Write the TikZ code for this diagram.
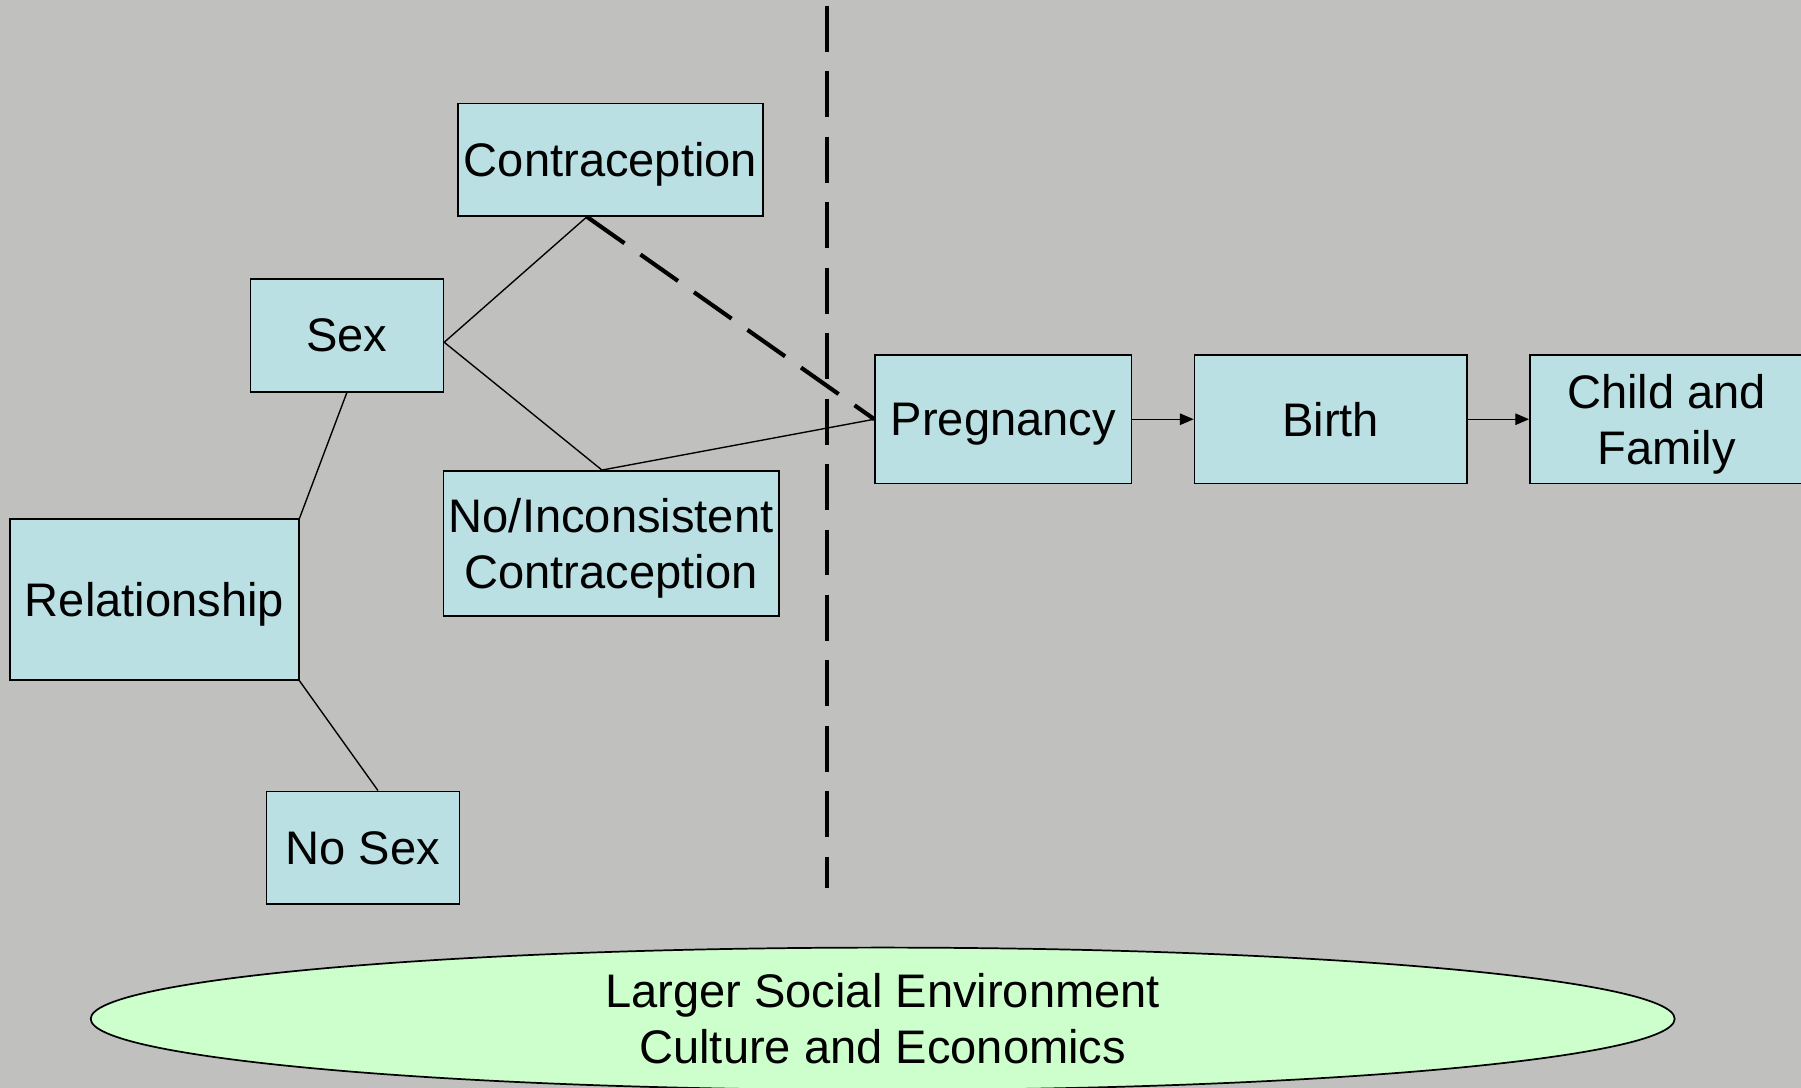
\documentclass[tikz,border=0pt]{standalone}
\usepackage{fontspec}
\setmainfont{Liberation Sans}
\usetikzlibrary{calc,arrows.meta,shapes.geometric}
\definecolor{bgc}{RGB}{192,192,190}
\definecolor{boxc}{RGB}{186,224,227}
\definecolor{ellc}{RGB}{204,255,204}
\begin{document}
\begin{tikzpicture}[x=0.5pt,y=-0.5pt,
  every node/.style={font=\fontsize{20.5}{24.5}\selectfont, text=black},
  box/.style={draw=black, line width=0.75pt, fill=boxc, rectangle, inner sep=0pt, align=center, text depth=0pt},
  link/.style={draw=black, line width=0.6pt},
  bigdash/.style={draw=black, line width=1.8pt, dash pattern=on 20pt off 8.5pt},
  flow/.style={draw=black, line width=0.6pt, -{Triangle[length=6pt,width=5pt]}}]
\fill[bgc] (0,0) rectangle (1568,947);
\useasboundingbox (0,0) rectangle (1568,947);

\node[box, minimum width=132.5pt, minimum height=49pt] (contra) at (531.5,139) {Contraception};
\node[box, minimum width=84pt, minimum height=49pt] (sex) at (302,292) {Sex};
\node[box, minimum width=125.5pt, minimum height=70pt] (rel) at (134.5,522) {Relationship};
\node[box, minimum width=84pt, minimum height=49pt] (nosex) at (316,738) {No Sex};
\node[box, minimum width=146pt, minimum height=63pt] (noinc) at (532,473) {No/Inconsistent\\Contraception};
\node[box, minimum width=111.5pt, minimum height=56pt] (preg) at (873.5,365) {Pregnancy};
\node[box, minimum width=118.5pt, minimum height=56pt] (birth) at (1158.5,365) {Birth};
\node[box, minimum width=119pt, minimum height=56pt] (child) at (1451,365) {Child and\\Family};

\node[ellipse, draw=black, line width=0.75pt, fill=ellc, minimum width=689.5pt, minimum height=62pt, inner sep=0pt, align=center] (env) at (768.5,887) {Larger Social Environment\\Culture and Economics};

\coordinate (vtop) at (720,5);
\coordinate (vbot) at (720,773);
\draw[bigdash] (vtop) -- (vbot);

\coordinate (cb) at ($(contra.south west)!0.423!(contra.south east)$);
\coordinate (nt) at ($(noinc.north west)!0.473!(noinc.north east)$);
\coordinate (nst) at ($(nosex.north west)!0.577!(nosex.north east)$);
\coordinate (se) at ([yshift=-3pt]sex.east);

\draw[link] (se) -- (cb);
\draw[link] (se) -- (nt);
\draw[link] (sex.south) -- (rel.north east);
\draw[link] (rel.south east) -- (nst);
\draw[link] (nt) -- (preg.west);
\draw[bigdash] (cb) -- (preg.west);

\draw[flow] (preg.east) -- (birth.west);
\draw[flow] (birth.east) -- (child.west);
\end{tikzpicture}
\end{document}
